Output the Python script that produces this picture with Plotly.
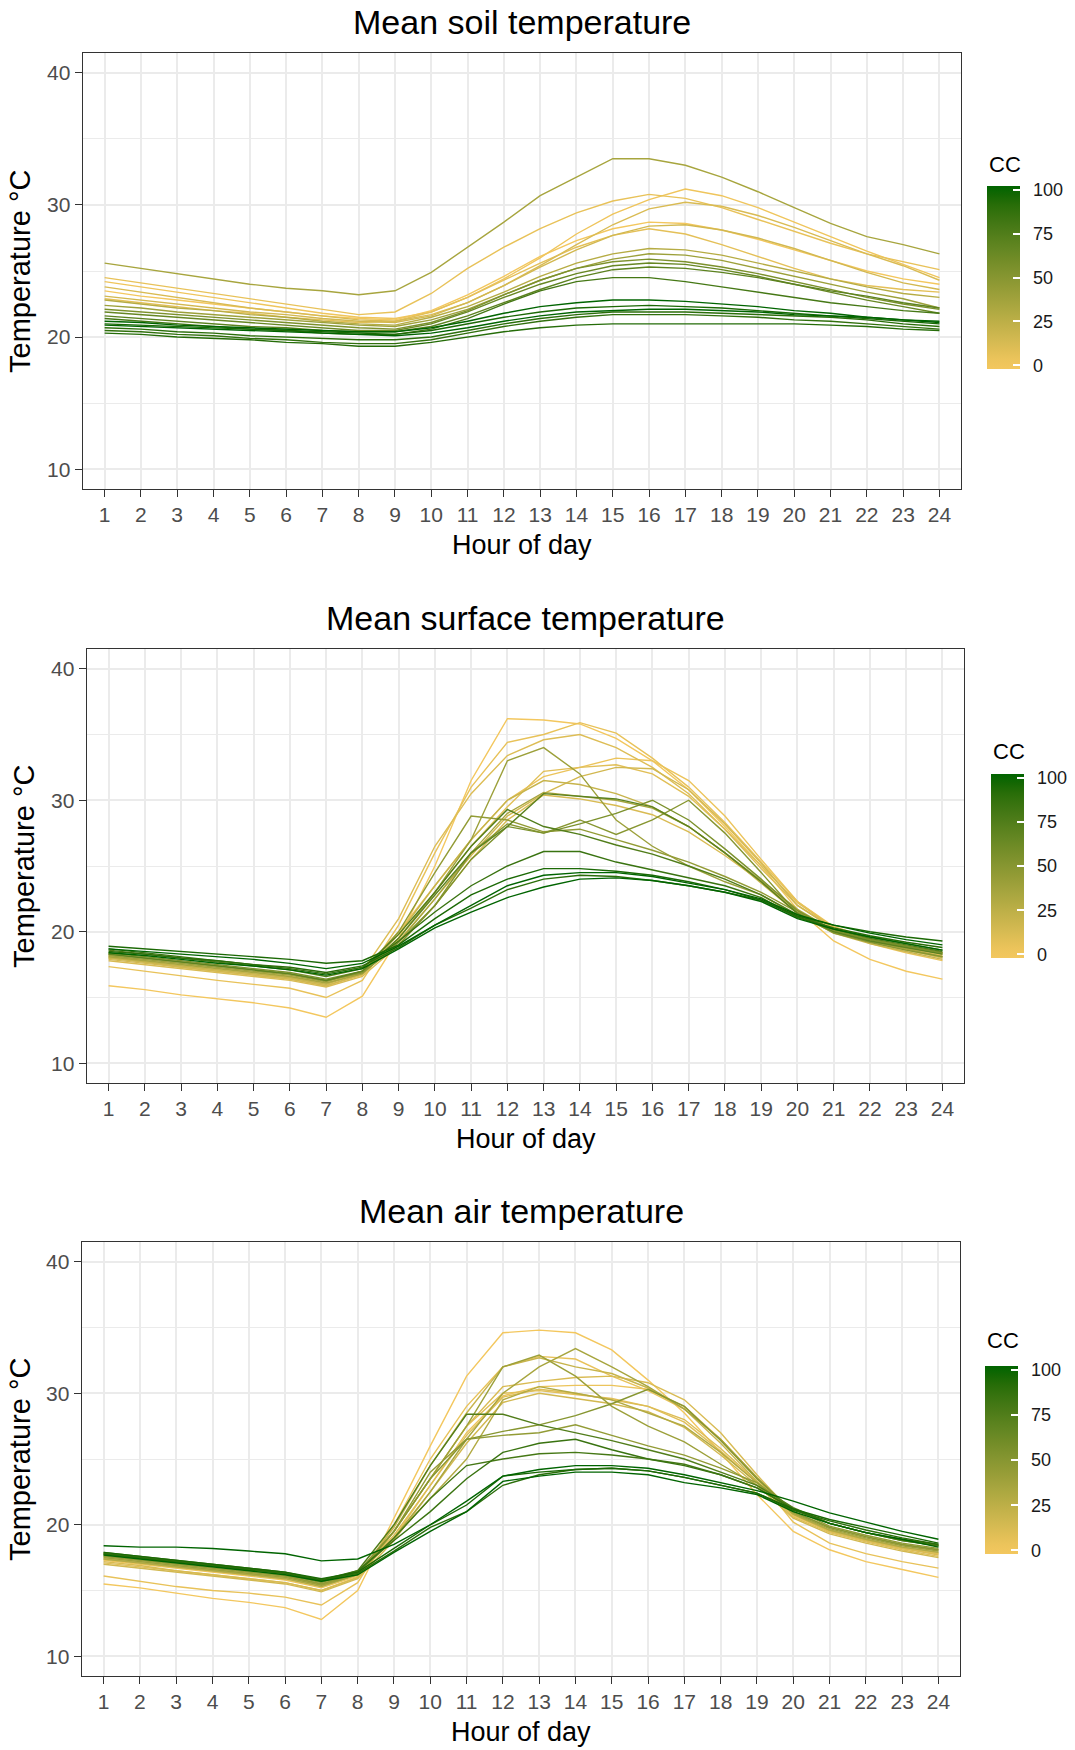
import plotly.graph_objects as go

FONT = "Liberation Sans, Arial, sans-serif"
HOURS = list(range(1, 25))

# ---------------- Mean soil temperature ----------------
SOIL_CC = [35, 5, 2, 12, 0, 15, 7, 28, 40, 55, 65, 70, 80, 100, 95, 100, 90, 88, 92]
SOIL_T = [
    [25.6, 25.2, 24.8, 24.4, 24.0, 23.7, 23.5, 23.2, 23.5, 24.9, 26.8, 28.7, 30.7, 32.1, 33.5, 33.5, 33.0, 32.1, 31.0, 29.8, 28.6, 27.6, 27.0, 26.3],
    [24.5, 24.1, 23.7, 23.3, 22.9, 22.5, 22.1, 21.7, 21.9, 23.3, 25.2, 26.8, 28.2, 29.4, 30.3, 30.8, 30.5, 29.8, 28.9, 28.0, 27.1, 26.3, 25.7, 25.1],
    [24.2, 23.8, 23.4, 23.0, 22.6, 22.2, 21.8, 21.5, 21.4, 21.9, 23.0, 24.4, 26.0, 27.8, 29.3, 30.4, 31.2, 30.7, 29.8, 28.7, 27.6, 26.5, 25.5, 24.5],
    [23.8, 23.4, 23.0, 22.6, 22.2, 21.9, 21.6, 21.3, 21.2, 21.7, 22.6, 23.9, 25.4, 27.0, 28.5, 29.7, 30.2, 29.9, 29.2, 28.3, 27.3, 26.3, 25.4, 24.3],
    [23.5, 23.1, 22.8, 22.5, 22.2, 21.9, 21.6, 21.4, 21.3, 22.0, 23.2, 24.6, 26.1, 27.3, 28.2, 28.7, 28.6, 28.1, 27.4, 26.6, 25.8, 25.0, 24.4, 24.0],
    [23.1, 22.8, 22.5, 22.2, 21.9, 21.7, 21.4, 21.2, 21.1, 21.6, 22.6, 23.9, 25.3, 26.6, 27.7, 28.4, 28.5, 28.1, 27.5, 26.7, 25.8, 24.9, 24.1, 23.6],
    [22.9, 22.6, 22.3, 22.0, 21.8, 21.5, 21.3, 21.1, 21.2, 21.9, 23.0, 24.3, 25.6, 26.8, 27.7, 28.2, 27.8, 27.0, 26.1, 25.2, 24.4, 23.9, 23.6, 23.4],
    [22.8, 22.5, 22.2, 22.0, 21.7, 21.5, 21.2, 21.0, 20.9, 21.5, 22.3, 23.4, 24.6, 25.6, 26.3, 26.7, 26.6, 26.2, 25.6, 25.0, 24.4, 23.8, 23.3, 23.0],
    [22.4, 22.2, 21.9, 21.7, 21.5, 21.3, 21.1, 20.9, 20.8, 21.3, 22.1, 23.2, 24.3, 25.2, 25.9, 26.3, 26.2, 25.8, 25.2, 24.6, 24.0, 23.4, 22.9, 22.2],
    [22.1, 21.9, 21.7, 21.5, 21.3, 21.1, 20.9, 20.7, 20.6, 21.1, 22.0, 23.2, 24.3, 25.2, 25.7, 25.9, 25.7, 25.3, 24.8, 24.2, 23.6, 23.0, 22.5, 22.1],
    [21.9, 21.7, 21.5, 21.3, 21.1, 20.9, 20.7, 20.5, 20.5, 21.0, 21.9, 23.0, 24.0, 24.8, 25.4, 25.6, 25.5, 25.1, 24.6, 24.0, 23.4, 22.8, 22.3, 21.8],
    [21.6, 21.4, 21.2, 21.0, 20.8, 20.7, 20.5, 20.4, 20.4, 20.8, 21.6, 22.6, 23.6, 24.5, 25.1, 25.3, 25.2, 24.9, 24.5, 24.0, 23.5, 23.1, 22.6, 22.2],
    [21.4, 21.2, 21.0, 20.8, 20.6, 20.5, 20.3, 20.2, 20.2, 20.6, 21.4, 22.5, 23.5, 24.2, 24.5, 24.5, 24.2, 23.8, 23.4, 23.0, 22.6, 22.3, 22.0, 21.8],
    [21.2, 21.1, 20.9, 20.8, 20.7, 20.6, 20.5, 20.4, 20.4, 20.7, 21.2, 21.8, 22.3, 22.6, 22.8, 22.8, 22.7, 22.5, 22.3, 22.0, 21.8, 21.5, 21.3, 21.1],
    [21.0, 20.9, 20.8, 20.7, 20.6, 20.5, 20.4, 20.3, 20.2, 20.5, 21.0, 21.5, 21.9, 22.2, 22.3, 22.4, 22.3, 22.2, 22.0, 21.8, 21.6, 21.4, 21.2, 21.0],
    [20.9, 20.8, 20.7, 20.6, 20.5, 20.4, 20.3, 20.2, 20.1, 20.3, 20.7, 21.2, 21.6, 21.9, 22.0, 22.1, 22.1, 22.0, 21.9, 21.7, 21.6, 21.5, 21.3, 21.2],
    [20.7, 20.6, 20.4, 20.3, 20.1, 20.0, 19.9, 19.8, 19.8, 20.0, 20.5, 21.0, 21.4, 21.7, 21.9, 21.9, 21.9, 21.8, 21.7, 21.6, 21.5, 21.3, 21.0, 20.8],
    [20.5, 20.4, 20.2, 20.1, 19.9, 19.8, 19.6, 19.5, 19.5, 19.8, 20.3, 20.8, 21.2, 21.5, 21.7, 21.7, 21.7, 21.6, 21.5, 21.3, 21.2, 21.0, 20.8, 20.6],
    [20.3, 20.2, 20.0, 19.9, 19.8, 19.6, 19.5, 19.3, 19.3, 19.6, 20.0, 20.4, 20.7, 20.9, 21.0, 21.0, 21.0, 21.0, 21.0, 21.0, 20.9, 20.8, 20.6, 20.5],
]

# ---------------- Mean surface temperature ----------------
SURF_CC = [0, 5, 10, 3, 8, 15, 12, 20, 40, 35, 50, 75, 55, 45, 85, 95, 100, 90, 100, 70]
SURF_T = [
    [15.9, 15.6, 15.2, 14.9, 14.6, 14.2, 13.5, 15.1, 19.5, 25.0, 31.5, 36.2, 36.1, 35.8, 34.7, 33.0, 30.8, 28.0, 25.0, 21.7, 19.3, 17.9, 17.0, 16.4],
    [17.35, 17.0, 16.6, 16.3, 16.0, 15.7, 15.0, 16.3, 20.5, 26.0, 31.0, 34.4, 35.0, 35.9, 35.1, 33.2, 31.0, 28.3, 25.3, 22.3, 20.3, 19.1, 18.4, 17.8],
    [18.0, 17.7, 17.4, 17.1, 16.8, 16.5, 16.0, 17.0, 21.0, 26.5, 30.5, 33.4, 34.6, 35.0, 34.0, 32.5, 30.5, 27.8, 24.8, 22.0, 20.3, 19.4, 18.7, 18.2],
    [18.2, 17.8, 17.5, 17.2, 16.9, 16.6, 16.1, 16.9, 20.0, 23.5, 27.0, 30.0, 31.8, 32.5, 33.2, 33.0, 31.5, 28.8, 25.5, 22.3, 20.4, 19.5, 18.9, 18.4],
    [18.1, 17.7, 17.3, 17.0, 16.7, 16.4, 15.9, 16.7, 19.5, 23.0, 26.5, 29.5, 32.2, 32.5, 32.7, 32.0, 30.3, 27.8, 25.0, 22.2, 20.3, 19.4, 18.8, 18.3],
    [17.9, 17.6, 17.3, 17.0, 16.7, 16.4, 15.9, 16.8, 19.3, 22.5, 25.8, 28.8, 30.5, 31.8, 32.5, 32.4, 30.8, 28.2, 25.2, 22.0, 20.2, 19.3, 18.7, 18.1],
    [17.8, 17.5, 17.2, 16.9, 16.6, 16.3, 15.8, 16.6, 19.0, 22.0, 25.5, 28.5, 30.4, 30.1, 29.6, 28.9, 27.6, 25.8, 23.8, 21.6, 20.0, 19.2, 18.6, 18.0],
    [18.0, 17.7, 17.4, 17.1, 16.8, 16.5, 16.0, 16.9, 19.8, 23.5, 27.0, 30.0, 31.5, 31.2, 30.5, 29.5, 28.0, 26.0, 23.7, 21.4, 19.9, 19.1, 18.5, 17.9],
    [18.2, 17.9, 17.6, 17.3, 17.0, 16.7, 16.2, 17.0, 19.5, 23.0, 27.0, 33.0, 34.0, 32.0, 28.5, 26.5, 25.0, 23.8, 22.8, 21.2, 20.0, 19.3, 18.8, 18.3],
    [18.1, 17.8, 17.5, 17.2, 16.9, 16.6, 16.1, 16.8, 19.2, 22.5, 26.0, 29.0, 30.6, 30.3, 30.0, 29.4, 28.0, 26.0, 23.9, 21.7, 20.1, 19.3, 18.7, 18.1],
    [18.3, 18.0, 17.7, 17.4, 17.1, 16.8, 16.3, 16.9, 19.0, 22.0, 26.0, 28.2, 27.5, 28.5, 27.4, 28.5, 30.0, 27.5, 24.5, 21.4, 19.9, 19.2, 18.6, 18.1],
    [18.6, 18.3, 18.0, 17.7, 17.4, 17.1, 16.6, 17.2, 19.8, 23.0, 26.5, 29.3, 28.0, 27.4, 26.6, 25.9, 25.0, 24.0, 22.8, 21.3, 20.2, 19.5, 19.0, 18.5],
    [18.4, 18.1, 17.8, 17.5, 17.2, 16.9, 16.4, 17.0, 19.2, 22.0, 25.5, 28.0, 27.5, 28.2, 29.0, 30.0, 28.5, 26.3, 24.0, 21.6, 20.1, 19.4, 18.9, 18.4],
    [18.3, 18.0, 17.7, 17.4, 17.1, 16.8, 16.3, 16.9, 20.0, 24.5, 28.8, 28.5, 27.6, 27.8, 27.0, 26.2, 25.3, 24.2, 23.0, 21.5, 20.1, 19.4, 18.9, 18.4],
    [18.7, 18.4, 18.1, 17.8, 17.5, 17.2, 16.8, 17.3, 19.3, 21.5, 23.5, 25.0, 26.1, 26.1, 25.3, 24.7, 24.1, 23.5, 22.6, 21.1, 20.2, 19.6, 19.1, 18.6],
    [18.9, 18.7, 18.5, 18.3, 18.1, 17.9, 17.6, 17.8, 19.0, 21.0, 22.8, 24.0, 24.8, 24.8, 24.6, 24.3, 23.8, 23.2, 22.4, 21.2, 20.5, 20.0, 19.6, 19.3],
    [18.7, 18.5, 18.3, 18.1, 17.9, 17.6, 17.2, 17.6, 18.9, 20.5, 22.0, 23.5, 24.3, 24.5, 24.5, 24.2, 23.7, 23.2, 22.5, 21.3, 20.5, 19.9, 19.4, 19.0],
    [18.5, 18.3, 18.0, 17.8, 17.5, 17.3, 16.9, 17.4, 18.8, 20.5, 21.8, 23.2, 24.0, 24.3, 24.2, 23.9, 23.5, 23.0, 22.4, 21.1, 20.3, 19.7, 19.2, 18.8],
    [18.4, 18.2, 17.9, 17.6, 17.4, 17.1, 16.7, 17.2, 18.7, 20.3, 21.5, 22.6, 23.4, 24.0, 24.1, 23.9, 23.5, 23.0, 22.3, 21.0, 20.2, 19.6, 19.1, 18.6],
    [18.3, 18.0, 17.7, 17.4, 17.1, 16.8, 16.3, 17.0, 19.5, 22.8, 26.0, 28.0, 30.5, 30.3, 30.1, 29.5, 28.0, 26.0, 23.8, 21.4, 20.0, 19.3, 18.8, 18.3],
]

# ---------------- Mean air temperature ----------------
AIR_CC = [0, 5, 12, 3, 8, 15, 20, 10, 40, 35, 50, 45, 30, 75, 85, 100, 95, 90, 100, 80]
AIR_T = [
    [15.5, 15.2, 14.8, 14.4, 14.1, 13.7, 12.8, 15.0, 20.5, 26.0, 31.3, 34.6, 34.8, 34.6, 33.3, 31.0, 28.5, 25.5, 22.3, 19.5, 18.1, 17.2, 16.6, 16.0],
    [16.1, 15.7, 15.3, 15.0, 14.8, 14.5, 13.9, 15.6, 20.0, 25.0, 29.0, 32.0, 32.8, 32.6, 31.3, 30.2, 28.8, 26.5, 23.6, 20.2, 18.6, 17.8, 17.2, 16.7],
    [17.2, 16.9, 16.5, 16.2, 15.9, 15.6, 15.0, 16.0, 19.5, 23.5, 27.5, 30.5, 30.9, 31.2, 31.3, 30.8, 29.5, 27.0, 23.8, 20.8, 19.5, 18.8, 18.2, 17.7],
    [17.3, 17.0, 16.7, 16.4, 16.1, 15.8, 15.2, 16.1, 19.0, 23.0, 27.0, 29.8, 30.5, 30.6, 30.6, 30.3, 29.0, 26.5, 23.5, 20.7, 19.5, 18.8, 18.2, 17.8],
    [17.1, 16.8, 16.5, 16.2, 15.9, 15.6, 15.0, 16.0, 19.5, 23.5, 27.5, 30.0, 30.2, 29.9, 29.6, 29.0, 27.8, 25.6, 23.2, 20.6, 19.4, 18.7, 18.1, 17.6],
    [17.0, 16.7, 16.4, 16.1, 15.8, 15.5, 14.9, 15.9, 18.8, 22.5, 26.2, 29.3, 30.0, 29.6, 29.2, 28.6, 27.4, 25.3, 23.0, 20.5, 19.3, 18.6, 18.0, 17.5],
    [17.4, 17.1, 16.8, 16.5, 16.2, 15.9, 15.3, 16.2, 19.8, 24.5, 28.5, 32.0, 32.7, 32.0, 31.5, 30.4, 28.8, 26.2, 23.3, 20.8, 19.6, 18.9, 18.3, 17.9],
    [17.5, 17.2, 16.9, 16.6, 16.3, 16.0, 15.4, 16.3, 19.2, 23.0, 26.8, 29.7, 30.3, 30.0, 29.5, 29.0, 28.0, 25.8, 23.3, 20.8, 19.5, 18.8, 18.2, 17.8],
    [17.5, 17.2, 16.9, 16.6, 16.3, 16.0, 15.4, 16.2, 19.5, 23.5, 27.5, 32.0, 32.9, 31.3, 29.0, 27.5, 26.3, 24.6, 23.0, 20.9, 19.7, 19.0, 18.4, 18.0],
    [17.6, 17.3, 17.0, 16.7, 16.4, 16.1, 15.5, 16.3, 19.0, 22.5, 26.5, 30.0, 32.0, 33.4, 32.0, 30.5, 28.8, 26.5, 23.6, 21.0, 19.8, 19.1, 18.5, 18.1],
    [17.7, 17.4, 17.1, 16.8, 16.5, 16.2, 15.6, 16.4, 19.5, 23.5, 26.5, 27.1, 27.6, 28.3, 29.2, 30.3, 29.0, 26.4, 23.5, 21.0, 19.8, 19.1, 18.5, 18.1],
    [17.6, 17.3, 17.0, 16.7, 16.4, 16.1, 15.5, 16.3, 19.5, 24.0, 26.5, 26.8, 27.0, 27.6, 26.8, 26.0, 25.3, 24.3, 23.2, 21.2, 19.9, 19.2, 18.6, 18.2],
    [17.4, 17.1, 16.8, 16.5, 16.2, 15.9, 15.3, 16.2, 19.0, 22.0, 25.0, 29.5, 30.5, 30.0, 29.5, 28.5, 27.5, 25.5, 23.2, 20.8, 19.6, 18.9, 18.3, 17.9],
    [17.8, 17.5, 17.2, 16.9, 16.6, 16.3, 15.7, 16.5, 20.0, 24.5, 28.4, 28.4, 27.6, 27.0, 26.4, 25.7, 25.0, 24.0, 23.0, 21.3, 20.1, 19.4, 18.8, 18.4],
    [17.9, 17.6, 17.3, 17.0, 16.7, 16.4, 15.8, 16.5, 18.8, 21.0, 23.5, 25.5, 26.2, 26.5, 25.7, 25.0, 24.5, 23.8, 22.8, 21.2, 20.1, 19.4, 18.9, 18.5],
    [18.4, 18.3, 18.3, 18.2, 18.0, 17.8, 17.25, 17.4, 18.5, 20.0, 21.8, 23.7, 24.2, 24.5, 24.5, 24.3, 23.8, 23.2, 22.6, 21.8, 20.9, 20.2, 19.5, 18.9],
    [17.9, 17.6, 17.3, 17.0, 16.7, 16.4, 15.9, 16.4, 18.2, 20.0, 21.5, 23.7, 24.0, 24.2, 24.3, 24.1, 23.6, 23.0, 22.4, 21.2, 20.4, 19.8, 19.2, 18.6],
    [17.8, 17.5, 17.2, 16.9, 16.6, 16.3, 15.8, 16.3, 18.0, 19.8, 21.0, 23.0, 23.8, 24.2, 24.3, 24.1, 23.6, 23.0, 22.4, 21.1, 20.3, 19.6, 19.0, 18.5],
    [17.7, 17.4, 17.1, 16.8, 16.5, 16.2, 15.7, 16.2, 17.9, 19.5, 21.0, 23.3, 23.7, 24.0, 24.0, 23.8, 23.2, 22.8, 22.3, 21.0, 20.1, 19.4, 18.9, 18.3],
    [17.8, 17.5, 17.2, 16.9, 16.6, 16.3, 15.7, 16.4, 19.0, 22.0, 24.5, 25.0, 25.4, 25.5, 25.3, 25.0, 24.6, 23.8, 22.8, 21.2, 20.1, 19.4, 18.8, 18.4],
]

TITLES = ["Mean soil temperature", "Mean surface temperature", "Mean air temperature"]
Y_TICKS = [10, 20, 30, 40]
Y_MINOR = [15, 25, 35]
CC_TICKS = [0, 25, 50, 75, 100]

LOW_HEX = "#F3C75E"
HIGH_HEX = "#006400"

# ---------- colour helpers (Lab interpolation like ggplot gradients) ----------
def _hex_rgb(h):
    h = h.lstrip("#")
    return [int(h[i:i + 2], 16) / 255 for i in (0, 2, 4)]

def _lin(c):
    return c / 12.92 if c <= 0.04045 else ((c + 0.055) / 1.055) ** 2.4

def _gam(c):
    c = max(0.0, min(1.0, c))
    return 12.92 * c if c <= 0.0031308 else 1.055 * c ** (1 / 2.4) - 0.055

WHITE = (0.95047, 1.0, 1.08883)

def _to_lab(h):
    r, g, b = [_lin(c) for c in _hex_rgb(h)]
    x = 0.4124 * r + 0.3576 * g + 0.1805 * b
    y = 0.2126 * r + 0.7152 * g + 0.0722 * b
    z = 0.0193 * r + 0.1192 * g + 0.9505 * b
    def f(t):
        return t ** (1 / 3) if t > 0.008856 else 7.787 * t + 16 / 116
    fx, fy, fz = f(x / WHITE[0]), f(y / WHITE[1]), f(z / WHITE[2])
    return (116 * fy - 16, 500 * (fx - fy), 200 * (fy - fz))

def _from_lab(L, a, b):
    fy = (L + 16) / 116
    fx = fy + a / 500
    fz = fy - b / 200
    def finv(t):
        return t ** 3 if t ** 3 > 0.008856 else (t - 16 / 116) / 7.787
    x, y, z = WHITE[0] * finv(fx), WHITE[1] * finv(fy), WHITE[2] * finv(fz)
    r = 3.2406 * x - 1.5372 * y - 0.4986 * z
    g = -0.9689 * x + 1.8758 * y + 0.0415 * z
    bb = 0.0557 * x - 0.2040 * y + 1.0570 * z
    return "rgb(%d,%d,%d)" % tuple(round(_gam(c) * 255) for c in (r, g, bb))

LAB_LO = _to_lab(LOW_HEX)
LAB_HI = _to_lab(HIGH_HEX)

def cc_color(v):
    t = max(0.0, min(1.0, v / 100))
    return _from_lab(*[lo + (hi - lo) * t for lo, hi in zip(LAB_LO, LAB_HI)])

CMIN, CMAX = -2, 102
COLORSCALE = []
for i in range(21):
    p = i / 20
    COLORSCALE.append([p, cc_color(CMIN + (CMAX - CMIN) * p)])

# ---------- layout geometry (pixels) ----------
W, H = 1075, 1750
PANELS = [
    dict(x0=83, x1=963, y0=53, y1=489, bar_x=989, bar_y0=186, bar_y1=369, cc_y=164, ytitle_x=20),
    dict(x0=87, x1=966, y0=649, y1=1083, bar_x=993, bar_y0=774, bar_y1=958, cc_y=751, ytitle_x=24),
    dict(x0=82, x1=962, y0=1242, y1=1676, bar_x=987, bar_y0=1366, bar_y1=1554, cc_y=1340, ytitle_x=20),
]

def px(x):
    return x / W

def py(y):
    return 1 - y / H

fig = go.Figure()
layout = dict(
    width=W, height=H, margin=dict(l=0, r=0, t=0, b=0),
    paper_bgcolor="white", plot_bgcolor="white",
    font=dict(family=FONT), showlegend=False,
)
annotations = []
DATASETS = [(SOIL_CC, SOIL_T), (SURF_CC, SURF_T), (AIR_CC, AIR_T)]

for k, (pan, (ccs, temps)) in enumerate(zip(PANELS, DATASETS)):
    n = "" if k == 0 else str(k + 1)
    xa, ya, ca = "x" + n, "y" + n, "coloraxis" + n
    order = sorted(range(len(ccs)), key=lambda i: ccs[i])
    for i in order:
        fig.add_trace(go.Scatter(
            x=HOURS, y=temps[i], mode="lines", xaxis=xa, yaxis=ya,
            line=dict(color=cc_color(ccs[i]), width=1.4),
            hoverinfo="skip", showlegend=False))
    # invisible trace carrying the colour bar
    fig.add_trace(go.Scatter(
        x=[1, 1], y=[20, 20], mode="markers", xaxis=xa, yaxis=ya,
        marker=dict(color=[0, 100], coloraxis=ca, opacity=0, size=1),
        hoverinfo="skip", showlegend=False))

    layout["xaxis" + n] = dict(
        domain=[px(pan["x0"]), px(pan["x1"])], anchor=ya,
        range=[0.4, 24.6], tickmode="array", tickvals=HOURS,
        ticktext=[str(h) for h in HOURS],
        ticks="outside", ticklen=7, tickwidth=1.3, tickcolor="#333333",
        tickfont=dict(size=21, color="#4D4D4D", family=FONT),
        showgrid=True, gridcolor="#EBEBEB", gridwidth=1.5,
        showline=True, mirror=True, linecolor="#333333", linewidth=1.4,
        zeroline=False, fixedrange=True,
    )
    layout["yaxis" + n] = dict(
        domain=[py(pan["y1"]), py(pan["y0"])], anchor=xa,
        range=[8.5, 41.5], tickmode="array", tickvals=Y_TICKS,
        ticks="outside", ticklen=7, tickwidth=1.3, tickcolor="#333333",
        tickfont=dict(size=21, color="#4D4D4D", family=FONT),
        showgrid=True, gridcolor="#EBEBEB", gridwidth=1.5,
        minor=dict(tickvals=Y_MINOR, showgrid=True, gridcolor="#EBEBEB", gridwidth=0.9, ticks=""),
        showline=True, mirror=True, linecolor="#333333", linewidth=1.4,
        zeroline=False, fixedrange=True,
    )
    layout[ca] = dict(
        cmin=CMIN, cmax=CMAX, colorscale=COLORSCALE,
        colorbar=dict(
            x=px(pan["bar_x"]), xanchor="left", xref="paper",
            y=py(pan["bar_y0"]), yanchor="top", yref="paper",
            len=pan["bar_y1"] - pan["bar_y0"], lenmode="pixels",
            thickness=33, thicknessmode="pixels", xpad=0, ypad=0,
            outlinewidth=0, tickmode="array", tickvals=CC_TICKS,
            ticktext=["\u2002" + str(v) for v in CC_TICKS],
            ticks="inside", ticklen=7, tickwidth=1.5, tickcolor="white",
            tickfont=dict(size=18, color="#1A1A1A", family=FONT),
        ),
    )
    cx = (pan["x0"] + pan["x1"]) / 2
    annotations += [
        dict(text=TITLES[k], x=px(cx), y=py(pan["y0"] - 31), xref="paper", yref="paper",
             xanchor="center", yanchor="middle", showarrow=False,
             font=dict(size=34, color="black", family=FONT)),
        dict(text="Hour of day", x=px(cx), y=py(pan["y1"] + 56), xref="paper", yref="paper",
             xanchor="center", yanchor="middle", showarrow=False,
             font=dict(size=27, color="black", family=FONT)),
        dict(text="Temperature °C", x=px(pan["ytitle_x"]), y=py((pan["y0"] + pan["y1"]) / 2),
             xref="paper", yref="paper", xanchor="center", yanchor="middle",
             textangle=-90, showarrow=False,
             font=dict(size=29, color="black", family=FONT)),
        dict(text="CC", x=px(pan["bar_x"]), y=py(pan["cc_y"]), xref="paper", yref="paper",
             xanchor="left", yanchor="middle", showarrow=False,
             font=dict(size=22, color="black", family=FONT)),
    ]

layout["annotations"] = annotations
fig.update_layout(**layout)
fig.write_html("out.html")
